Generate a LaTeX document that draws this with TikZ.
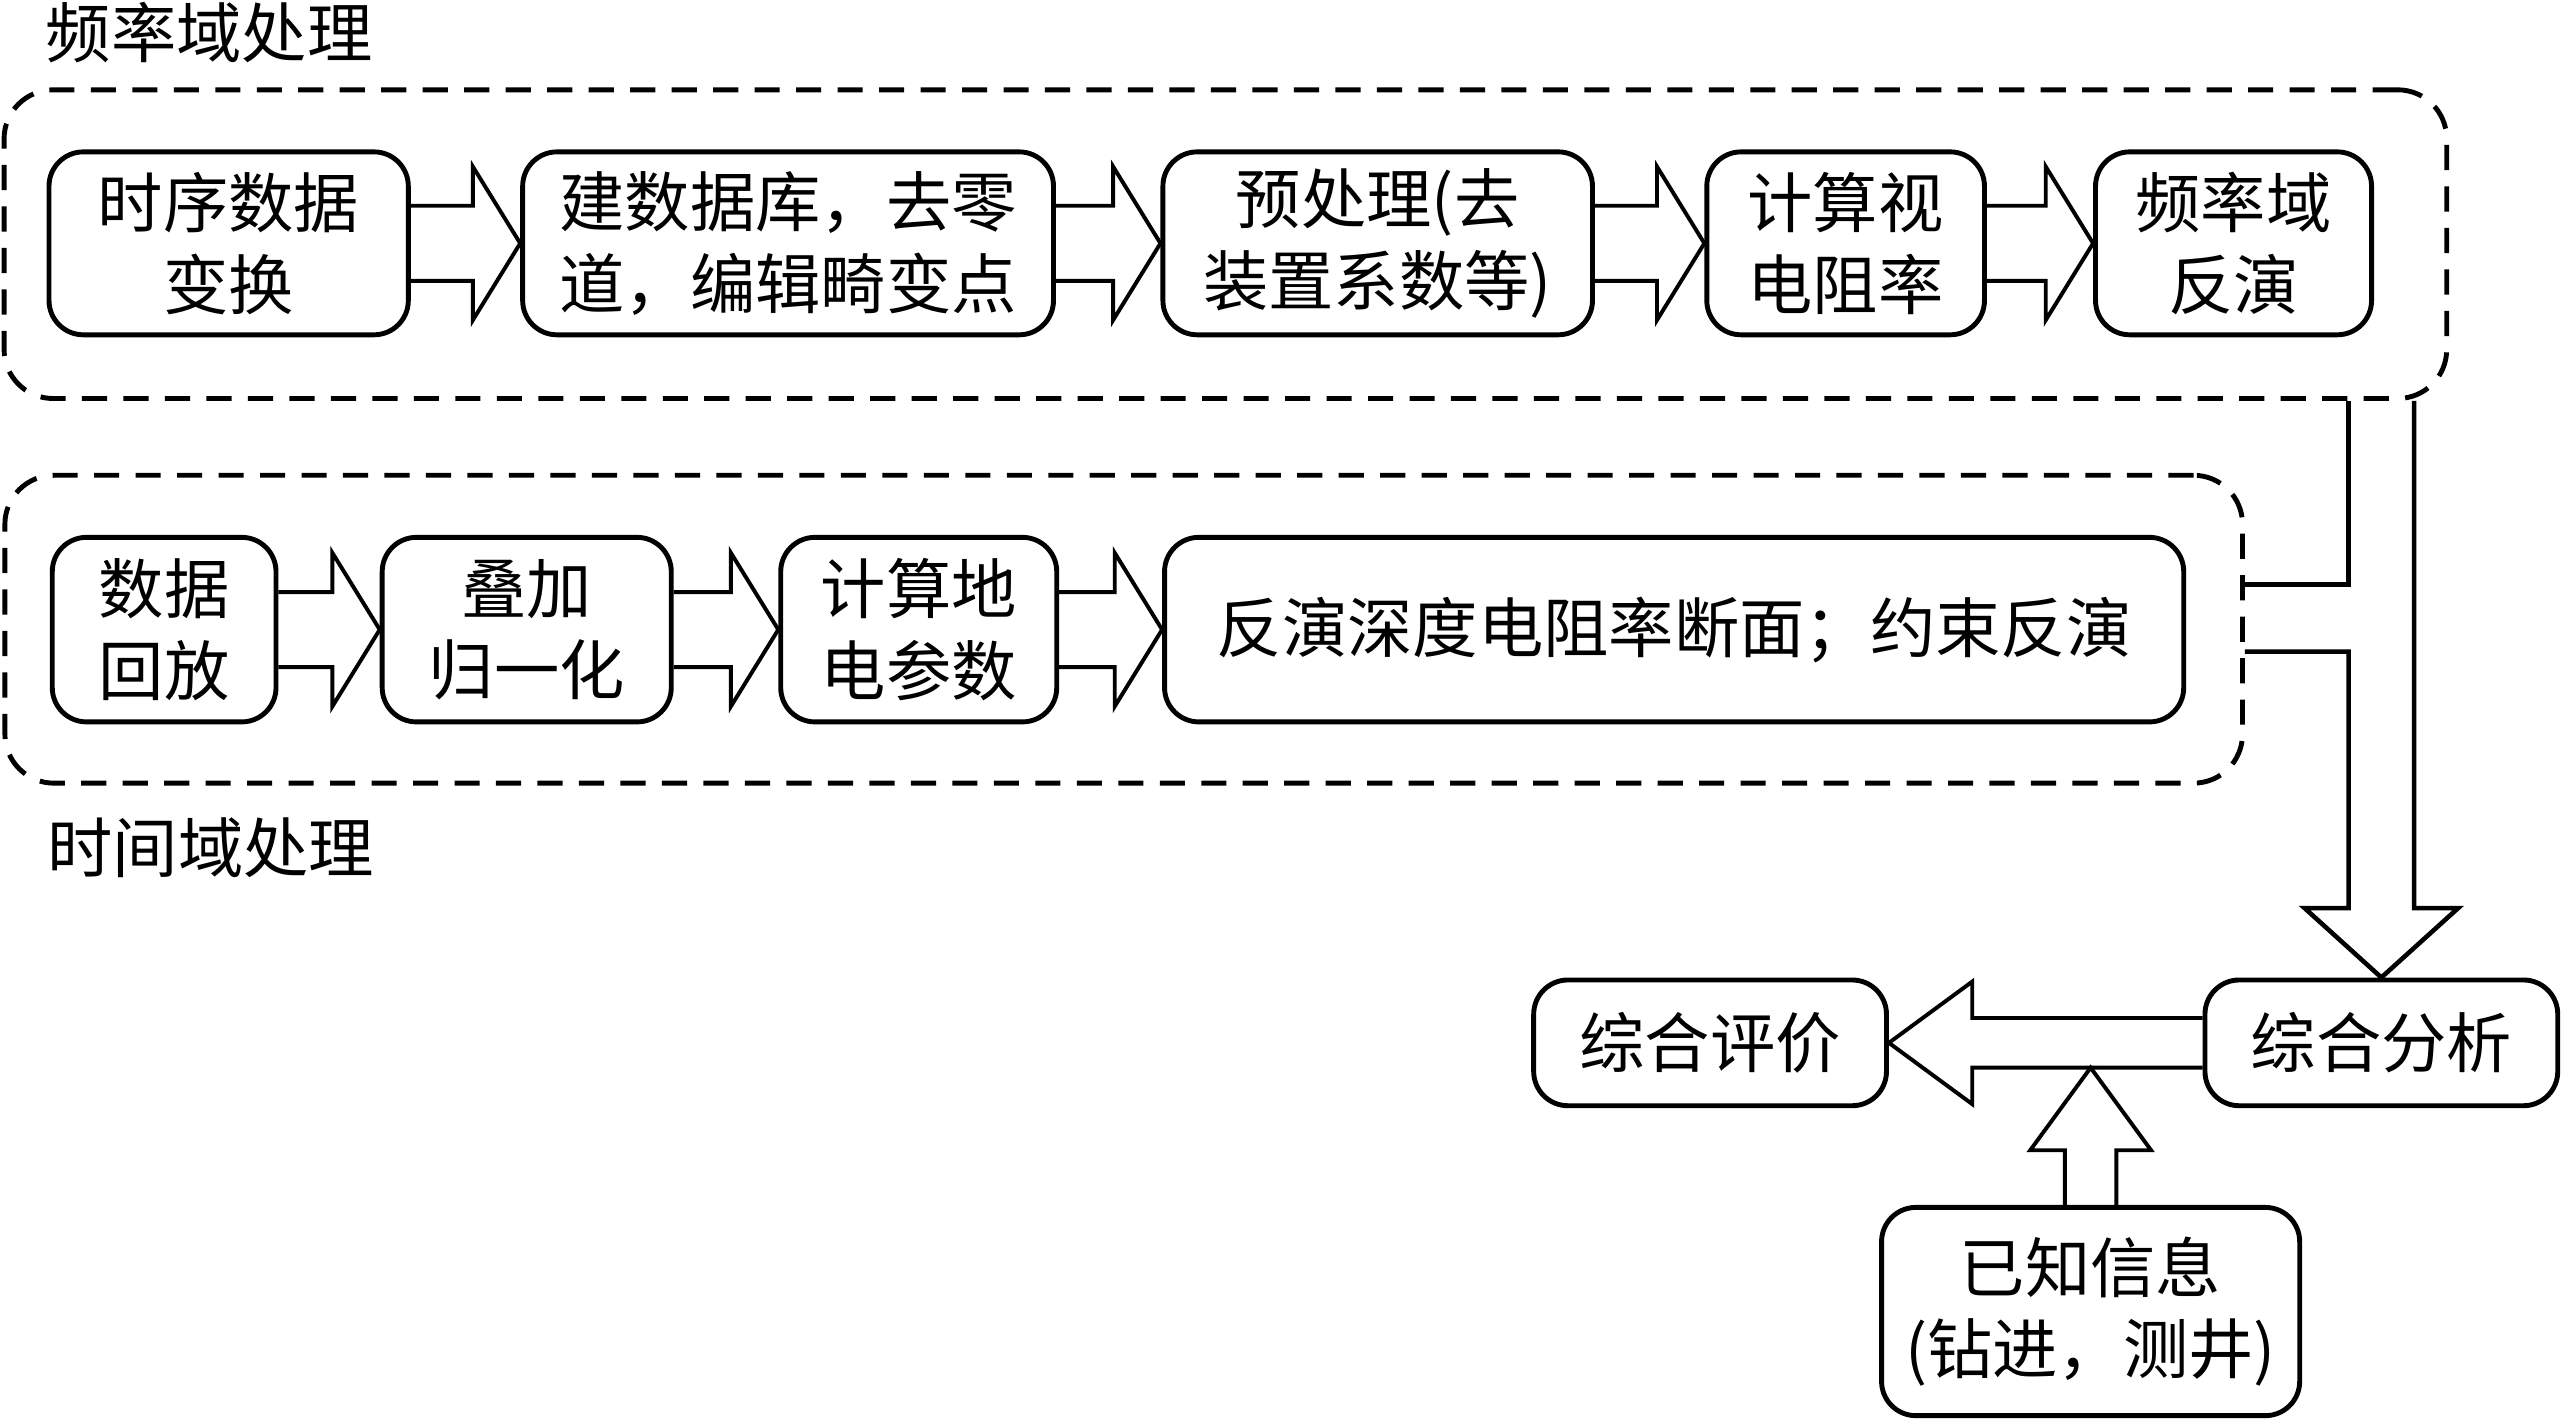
\documentclass[tikz,border=0pt]{standalone}
\usepackage{fontspec}
\setmainfont{Noto Sans CJK SC}
\usetikzlibrary{calc}
\tikzset{
  procbox/.style={draw, line width=1.5pt, rounded corners=10.5pt, align=center, inner sep=0pt,
    font=\fontsize{20}{25}\selectfont},
  frame/.style={draw, line width=1.5pt, dash pattern=on 7.7pt off 5pt, rounded corners=15pt, inner sep=0pt},
  barrow/.style={draw, line width=1.2pt, line join=miter},
  title/.style={inner sep=0pt, font=\fontsize{20}{25}\selectfont},
}
\newcommand\blockarrowR[2]{%
  \draw[barrow] ([yshift=11.5pt]#1.east) -- ([xshift=-14.5pt,yshift=11.5pt]#2.west)
    -- ([xshift=-14.5pt,yshift=23.5pt]#2.west) -- (#2.west)
    -- ([xshift=-14.5pt,yshift=-23.5pt]#2.west) -- ([xshift=-14.5pt,yshift=-11.5pt]#2.west)
    -- ([yshift=-11.5pt]#1.east);}
\begin{document}
\begin{tikzpicture}[x=0.5pt,y=-0.5pt]
\useasboundingbox (0,0) rectangle (1568,870);
% frames
\node[frame, minimum width=747.75pt, minimum height=94.5pt] (F1) at (750.25,149.5) {};
\node[frame, minimum width=685pt, minimum height=94.25pt] (F2) at (688,385.25) {};
\node[title] (T1) at (128,20) {频率域处理};
\node[title] (T2) at (129,519) {时间域处理};
% row 1
\node[procbox, minimum width=110pt, minimum height=56pt] (b1) at (140,149) {时序数据\\变换};
\node[procbox, minimum width=162.5pt, minimum height=56pt] (b2) at (482.5,149) {建数据库，去零\\道，编辑畸变点};
\node[procbox, minimum width=131.5pt, minimum height=56pt] (b3) at (843.5,149) {预处理(去\\装置系数等)};
\node[procbox, minimum width=85pt, minimum height=56pt] (b4) at (1130,149) {计算视\\电阻率};
\node[procbox, minimum width=84.5pt, minimum height=56pt] (b5) at (1367.5,149) {频率域\\反演};
\blockarrowR{b1}{b2}
\blockarrowR{b2}{b3}
\blockarrowR{b3}{b4}
\blockarrowR{b4}{b5}
% row 2
\node[procbox, minimum width=68.5pt, minimum height=56.5pt] (c1) at (100.5,385.5) {数据\\回放};
\node[procbox, minimum width=88.5pt, minimum height=56.5pt] (c2) at (322.5,385.5) {叠加\\归一化};
\node[procbox, minimum width=84.5pt, minimum height=56.5pt] (c3) at (562.5,385.5) {计算地\\电参数};
\node[procbox, minimum width=312pt, minimum height=56.5pt] (c4) at (1025,385.5) {反演深度电阻率断面；约束反演};
\blockarrowR{c1}{c2}
\blockarrowR{c2}{c3}
\blockarrowR{c3}{c4}
% bottom
\node[procbox, minimum width=108pt, minimum height=38.5pt] (d1) at (1458,638.5) {综合分析};
\node[procbox, minimum width=108pt, minimum height=38.5pt] (d2) at (1047,638.5) {综合评价};
\node[procbox, minimum width=128pt, minimum height=63.75pt] (d3) at (1280,803) {已知信息\\(钻进，测井)};
% big down arrow
\coordinate (sl) at ([xshift=-10pt]d1.north);
\coordinate (sr) at ([xshift=10pt]d1.north);
\coordinate (hl) at ([xshift=-23.5pt]d1.north);
\coordinate (hr) at ([xshift=23.5pt]d1.north);
\coordinate (j1) at (0,358);
\coordinate (j2) at (0,399);
\coordinate (hb) at (0,556);
\draw[barrow, line width=1.4pt] (sl |- F1.south) -- (sl |- j1) -- (F2.east |- j1);
\draw[barrow, line width=1.4pt] (F2.east |- j2) -- (sl |- j2) -- (sl |- hb) -- (hl |- hb) -- (d1.north)
   -- (hr |- hb) -- (sr |- hb) -- (sr |- F1.south);
% left arrow d1 -> d2
\draw[barrow] ([yshift=7.6pt]d1.west) -- ([xshift=25.5pt,yshift=7.6pt]d2.east)
  -- ([xshift=25.5pt,yshift=18.75pt]d2.east) -- (d2.east)
  -- ([xshift=25.5pt,yshift=-18.75pt]d2.east) -- ([xshift=25.5pt,yshift=-7.6pt]d2.east)
  -- ([yshift=-7.6pt]d1.west);
% up arrow d3 -> shaft
\coordinate (sb) at ([yshift=-7.6pt]d1.west);
\draw[barrow] ([xshift=-7.9pt]d3.north) -- ([xshift=-7.9pt,yshift=16.75pt]d3.north)
  -- ([xshift=-18.5pt,yshift=16.75pt]d3.north) -- (sb -| d3.north)
  -- ([xshift=18.5pt,yshift=16.75pt]d3.north) -- ([xshift=7.9pt,yshift=16.75pt]d3.north)
  -- ([xshift=7.9pt]d3.north);
\end{tikzpicture}
\end{document}
